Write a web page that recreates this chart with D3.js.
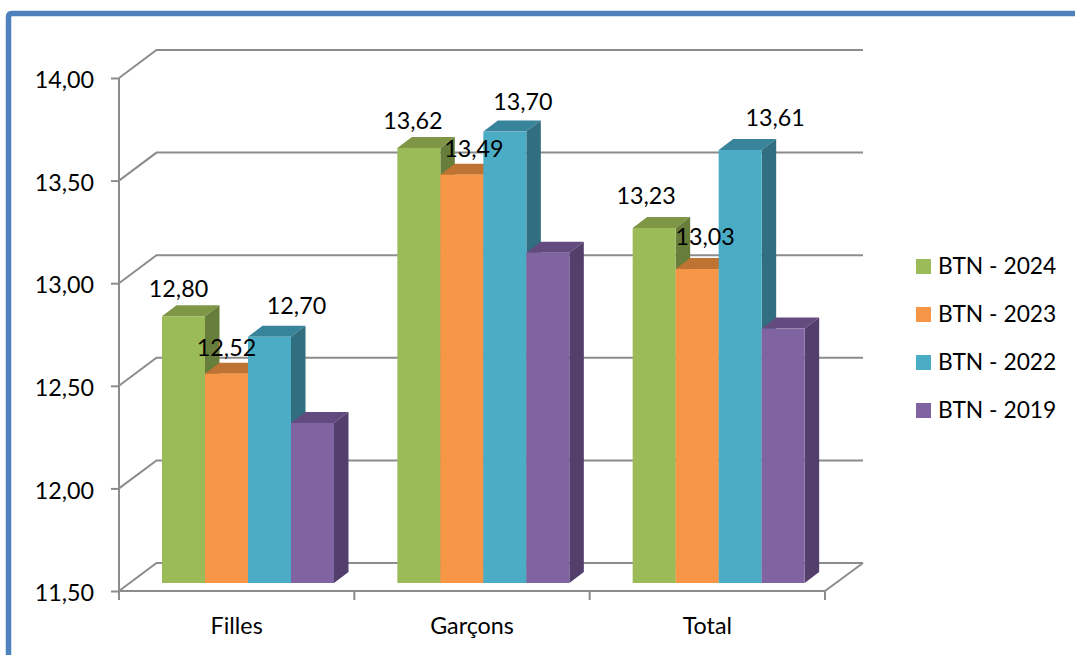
<!DOCTYPE html>
<html><head><meta charset="utf-8">
<script src="https://cdnjs.cloudflare.com/ajax/libs/d3/7.8.5/d3.min.js"></script>
<style>html,body{margin:0;padding:0;background:#fff}svg{display:block}text{font-family:Lato,"Open Sans",sans-serif;fill:#000}</style>
</head><body><svg id="c" width="1075" height="655"></svg>
<script>
const categories = ["Filles", "Garçons", "Total"];
const seriesNames = ["BTN - 2024", "BTN - 2023", "BTN - 2022", "BTN - 2019"];
const btn2024 = [12.80, 13.62, 13.23];
const btn2023 = [12.52, 13.49, 13.03];
const btn2022 = [12.70, 13.70, 13.61];
const btn2019 = [12.28, 13.11, 12.74];
const yTicks = [11.5, 12, 12.5, 13, 13.5, 14];
const labelledSeries = [true, true, true, false];

const frontColors = ["#9BBB59", "#F79646", "#4BACC6", "#8064A2"];
const topColors = ["#7E9646", "#BE7333", "#38849A", "#634B80"];
const sideColors = ["#677D3A", "#C4702E", "#316E80", "#533F6B"];
// label offsets [dx, dy from bar top] per series then category
const labelOffsets = [
  [[-5,-27],[-6,-27],[-8,-32]],
  [[0,-26],[12,-26],[8,-32]],
  [[27,-31],[18,-30],[35,-32]],
];

const series = [btn2024, btn2023, btn2022, btn2019];
const fmt = v => d3.format(".2f")(v).replace(".", ",");
const svg = d3.select("#c");
const depthX = 14.5, depthY = 11, wallX = 37.5, wallY = 28, floorLift = 8;
const fontSize = 23.3, legendFontSize = 22.8;

const y = d3.scaleLinear().domain([11.5, 14]).range([591, 78]);
const x0 = d3.scaleBand().domain(categories).range([119, 825]);
const x1 = d3.scaleBand().domain(d3.range(4)).range([43, 215]);
const gridC = "#8C8C8C";

// frame
svg.append("path")
  .attr("d", "M8.5,655 V17 Q8.5,13.5 12,13.5 H1075")
  .attr("fill", "none").attr("stroke", "#4F81BD").attr("stroke-width", 5.5);

// walls
const g = svg.append("g").attr("stroke", gridC).attr("stroke-width", 2).attr("fill", "none");
g.selectAll(".w").data(yTicks).join("path").attr("class", "w")
  .attr("d", t => `M119,${y(t)} L${119 + wallX},${y(t) - wallY} H863`);
g.append("path").attr("d", `M825,591 L863,${591 - wallY}`);

// axes
const ay = svg.append("g").attr("transform", "translate(119,0)")
  .call(d3.axisLeft(y).tickValues(yTicks).tickFormat(fmt).tickSize(8).tickPadding(17));
const ax = svg.append("g").attr("transform", "translate(0,591)")
  .call(d3.axisBottom(x0).tickSize(0).tickPadding(26));
[ay, ax].forEach(a => {
  a.selectAll("path,line").attr("stroke", gridC).attr("stroke-width", 2);
  a.selectAll("text").attr("font-size", fontSize).style("font-family", "Lato").attr("fill", "#000");
});
ay.selectAll("text").attr("dy", "0.42em");
ay.select(".domain").attr("d", "M0,78V591");
ax.select(".domain").attr("d", "M119,0H825");
ax.selectAll(".bt").data(d3.range(4)).join("line").attr("class", "bt")
  .attr("x1", i => 119 + i * x0.step()).attr("x2", i => 119 + i * x0.step())
  .attr("y1", 0).attr("y2", 9).attr("stroke", gridC).attr("stroke-width", 2);

// bars
const base = y(11.5) - floorLift;
categories.forEach((c, ci) => {
  series.forEach((vals, si) => {
    const l = x0(c) + x1(si), w = x1.bandwidth(), r = l + w, t = y(vals[ci]) - floorLift;
    const b = svg.append("g");
    b.append("path").attr("fill", topColors[si])
      .attr("d", `M${l},${t} L${l + depthX},${t - depthY} H${r + depthX} L${r},${t} Z`);
    b.append("path").attr("fill", sideColors[si])
      .attr("d", `M${r},${t} L${r + depthX},${t - depthY} V${base - depthY} L${r},${base} Z`);
    b.append("rect").attr("x", l).attr("y", t).attr("width", w).attr("height", base - t).attr("fill", frontColors[si]);
  });
});

// data labels
categories.forEach((c, ci) => {
  series.forEach((vals, si) => {
    if (!labelledSeries[si]) return;
    const [dx, dy] = labelOffsets[si][ci];
    svg.append("text")
      .attr("x", x0(c) + x1(si) + x1.bandwidth() / 2 + dx)
      .attr("y", y(vals[ci]) - floorLift + dy)
      .attr("dy", "0.35em").attr("text-anchor", "middle").attr("font-size", fontSize)
      .text(fmt(vals[ci]));
  });
});

// legend
const leg = d3.scalePoint().domain(seriesNames).range([266.5, 410.5]);
seriesNames.forEach((n, i) => {
  svg.append("rect").attr("x", 916).attr("y", leg(n) - 7.5).attr("width", 15).attr("height", 15).attr("fill", frontColors[i]);
  svg.append("text").attr("x", 938).attr("y", leg(n)).attr("dy", "0.35em").attr("font-size", legendFontSize).text(n);
});
</script></body></html>
